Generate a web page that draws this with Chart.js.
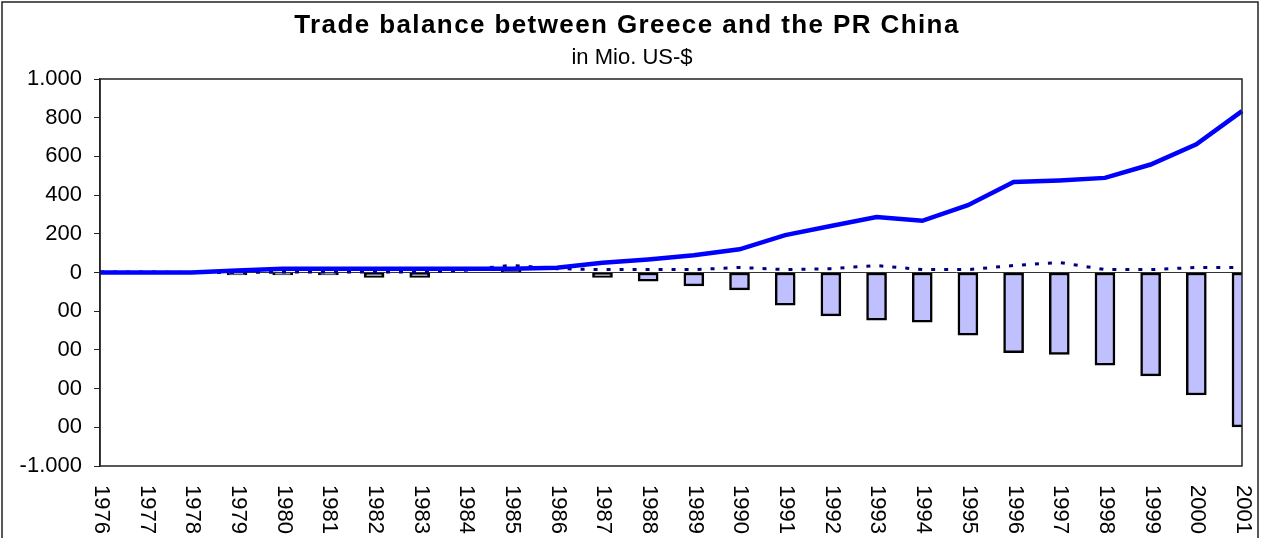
<!DOCTYPE html>
<html>
<head>
<meta charset="utf-8">
<script src="https://cdn.jsdelivr.net/npm/chart.js@4/dist/chart.umd.min.js"></script>
<style>
  html, body { margin: 0; padding: 0; background: #fff; }
  #wrap { width: 1261px; height: 538px; position: relative; }
</style>
</head>
<body>
<div id="wrap"><canvas id="chart" width="1261" height="538"></canvas></div>
<script>
const years = ['1976', '1977', '1978', '1979', '1980', '1981', '1982', '1983', '1984', '1985', '1986', '1987', '1988',
    '1989', '1990', '1991', '1992', '1993', '1994', '1995', '1996', '1997', '1998', '1999', '2000', '2001'];
// imports from China (solid line)
const imports = [0, 0, 0, 10, 20, 20, 20, 20, 20, 20, 24, 50, 67, 89, 120, 193, 240, 287, 267, 348, 468, 476, 489, 558, 663, 834];
// exports to China (dotted line)
const exports = [3, 3, 0, 0, 2, 2, 2, 2, 12, 37, 20, 15, 15, 15, 26, 15, 20, 36, 15, 15, 36, 52, 15, 15, 26, 26];
// trade balance (bars)
const balance = [0, 0, 0, -12, -12, -12, -25, -25, 0, 15, 0, -25, -45, -69, -90, -169, -224, -246, -257, -324, -414, -424, -479, -534, -633, -798];
const yTickValues = [-1000, -800, -600, -400, -200, 0, 200, 400, 600, 800, 1000];
const yTickLabels = ['-1.000', '00', '00', '00', '00', '0', '200', '400', '600', '800', '1.000'];

const FONT = '"Liberation Sans", Arial, sans-serif';

const decorations = {
    id: 'decorations',
    beforeDatasetsDraw(chart) {
        const { ctx, chartArea } = chart;
        const y0 = chart.scales.y.getPixelForValue(0);
        ctx.save();
        ctx.strokeStyle = '#333';
        ctx.lineWidth = 1;
        ctx.beginPath();
        ctx.moveTo(chartArea.left, y0);
        ctx.lineTo(chartArea.right, y0);
        ctx.stroke();
        ctx.restore();
    },
    afterDraw(chart) {
        const { ctx, chartArea } = chart;
        ctx.save();
        // outer frame
        ctx.strokeStyle = '#222';
        ctx.lineWidth = 1.5;
        ctx.strokeRect(2, 2, 1256, 600);
        // plot area frame
        ctx.strokeRect(chartArea.left, chartArea.top, chartArea.right - chartArea.left, chartArea.bottom - chartArea.top);

        // title + subtitle
        ctx.fillStyle = '#000';
        ctx.textAlign = 'center';
        ctx.textBaseline = 'alphabetic';
        ctx.font = 'bold 26px ' + FONT;
        ctx.letterSpacing = '1.4px';
        ctx.fillText('Trade balance between Greece and the PR China', 627, 33);
        ctx.letterSpacing = '0px';
        ctx.font = '22px ' + FONT;
        ctx.fillText('in Mio. US-$', 632, 64);

        // year labels, rotated clockwise
        ctx.font = '22px ' + FONT;
        ctx.textAlign = 'left';
        ctx.textBaseline = 'middle';
        const xs = chart.scales.x;
        years.forEach((label, i) => {
            ctx.save();
            ctx.translate(xs.getPixelForValue(i) + 1, 485);
            ctx.rotate(Math.PI / 2);
            ctx.fillText(label, 0, 0);
            ctx.restore();
        });
        ctx.restore();
    }
};

new Chart(document.getElementById('chart'), {
    type: 'bar',
    data: {
        labels: years,
        datasets: [{
            type: 'line',
            label: 'Imports',
            data: imports,
            borderColor: '#0000FF',
            borderWidth: 4.5,
            pointRadius: 0,
            tension: 0,
            fill: false
        }, {
            type: 'line',
            label: 'Exports',
            data: exports,
            borderColor: '#000080',
            borderWidth: 3,
            borderDash: [4, 9],
            pointRadius: 0,
            tension: 0,
            fill: false
        }, {
            type: 'bar',
            label: 'Balance',
            data: balance,
            backgroundColor: '#C0C0FF',
            borderColor: '#000',
            borderWidth: 2.5,
            borderSkipped: false,
            barThickness: 20
        }]
    },
    options: {
        responsive: false,
        animation: false,
        layout: {
            padding: { top: 79, right: 19, bottom: 72, left: 0 }
        },
        plugins: {
            legend: { display: false },
            title: { display: false },
            tooltip: { enabled: false }
        },
        scales: {
            x: {
                type: 'category',
                offset: false,
                ticks: { display: false },
                grid: { display: false },
                border: { display: false },
                afterFit(scale) { scale.height = 0; }
            },
            y: {
                min: -1000,
                max: 1000,
                afterBuildTicks(scale) {
                    scale.ticks = yTickValues.map((v) => ({ value: v }));
                },
                afterFit(scale) { scale.width = 100; },
                ticks: {
                    padding: 12,
                    color: '#000',
                    font: { family: FONT, size: 22 },
                    callback: (value) => yTickLabels[yTickValues.indexOf(value)] ?? ''
                },
                grid: {
                    drawOnChartArea: false,
                    drawTicks: true,
                    tickLength: 6,
                    color: '#222'
                },
                border: { display: true, color: '#222', width: 1.5 }
            }
        }
    },
    plugins: [decorations]
});
</script>
</body>
</html>
